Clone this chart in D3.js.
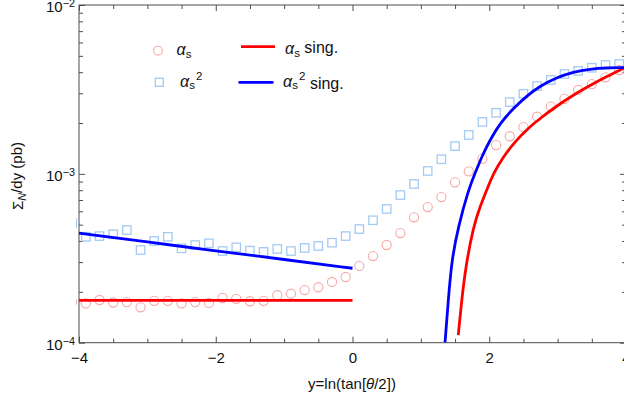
<!DOCTYPE html>
<html><head><meta charset="utf-8">
<script src="https://cdn.jsdelivr.net/npm/d3@7"></script>
<style>body{margin:0;background:#fff} text{font-family:"Liberation Sans",Arial,sans-serif}</style>
</head><body>
<svg id="c" width="624" height="407"></svg>
<script>
// ---- data ----
const xPoints = [-4.1,-3.9,-3.7,-3.5,-3.3,-3.1,-2.9,-2.7,-2.5,-2.3,-2.1,-1.9,-1.7,-1.5,-1.3,-1.1,-0.9,-0.7,-0.5,-0.3,-0.1,
  0.1,0.3,0.5,0.7,0.9,1.1,1.3,1.5,1.7,1.9,2.1,2.3,2.5,2.7,2.9,3.1,3.3,3.5,3.7,3.9];
const alphaS = [1.74e-4,1.71e-4,1.79e-4,1.73e-4,1.74e-4,1.62e-4,1.77e-4,1.77e-4,1.71e-4,1.74e-4,1.72e-4,1.84e-4,1.82e-4,1.76e-4,1.77e-4,1.91e-4,1.95e-4,2.05e-4,2.13e-4,2.29e-4,2.45e-4,
  2.85e-4,3.26e-4,3.79e-4,4.46e-4,5.53e-4,6.36e-4,7.29e-4,8.91e-4,1.035e-3,1.23e-3,1.48e-3,1.67e-3,1.89e-3,2.18e-3,2.50e-3,2.78e-3,3.14e-3,3.40e-3,3.73e-3,4.12e-3];
const alphaS2 = [5.12e-4,4.24e-4,4.28e-4,4.39e-4,4.65e-4,3.54e-4,4.00e-4,4.24e-4,3.62e-4,3.79e-4,3.88e-4,3.49e-4,3.67e-4,3.51e-4,3.45e-4,3.59e-4,3.49e-4,3.64e-4,3.74e-4,3.91e-4,4.28e-4,
  4.71e-4,5.31e-4,6.19e-4,7.49e-4,8.71e-4,1.04e-3,1.22e-3,1.46e-3,1.70e-3,2.03e-3,2.30e-3,2.66e-3,2.98e-3,3.31e-3,3.60e-3,3.90e-3,4.07e-3,4.25e-3,4.41e-3,4.47e-3];

const singLeftX = [-4,-3,-2,-1,0];
const alphaSSingLeft = [1.78e-4,1.78e-4,1.78e-4,1.78e-4,1.78e-4];
const alphaS2SingLeft = [4.45e-4,3.95e-4,3.50e-4,3.11e-4,2.76e-4];

const alphaSSingRightX = [1.547,1.597,1.656,1.767,1.865,1.963,2.060,2.206,2.377,2.571,2.742,2.986,3.230,3.474,3.718,3.971,4.0];
const alphaSSingRight  = [1.11e-4,1.79e-4,2.82e-4,4.86e-4,6.39e-4,8.02e-4,1.007e-3,1.263e-3,1.554e-3,1.868e-3,2.127e-3,2.522e-3,2.931e-3,3.335e-3,3.772e-3,4.235e-3,4.30e-3];
const alphaS2SingRightX = [1.353,1.401,1.451,1.547,1.694,1.792,1.890,2.011,2.157,2.352,2.548,2.742,2.986,3.230,3.474,3.718,3.971,4.0];
const alphaS2SingRight  = [1.0e-4,1.79e-4,3.09e-4,4.86e-4,8.02e-4,1.007e-3,1.263e-3,1.586e-3,1.993e-3,2.44e-3,2.891e-3,3.313e-3,3.72e-3,4.01e-3,4.18e-3,4.25e-3,4.26e-3,4.26e-3];

const xMajorTicks = [-4,-2,0,2,4];
const xTickLabels = ["\u22124","\u22122","0","2","4"];
const xMinorTicks = [-3.5,-3,-2.5,-1.5,-1,-0.5,0.5,1,1.5,2.5,3,3.5];
const yMajorTicks = [1e-4,1e-3,1e-2];
const yTickExponents = ["\u22124","\u22123","\u22122"];
const yMinorTicks = [2e-4,3e-4,4e-4,5e-4,6e-4,7e-4,8e-4,9e-4,2e-3,3e-3,4e-3,5e-3,6e-3,7e-3,8e-3,9e-3];

// ---- layout ----
const L = 79, R = 626, T = 5, B = 342.7;
const svg = d3.select("#c");
const x = d3.scaleLinear().domain([-4,4]).range([L,R]);
const y = d3.scaleLog().domain([1e-4,1e-2]).range([B,T]);
const axisColor = "#4d4d4d";
const FONT = '"Liberation Sans",Arial,sans-serif';

svg.append("defs").append("clipPath").attr("id","clip")
  .append("rect").attr("x",76).attr("y",T).attr("width",R-76).attr("height",B-T);

svg.append("rect").attr("x",L).attr("y",T).attr("width",R-L).attr("height",B-T)
  .attr("fill","none").attr("stroke",axisColor).attr("stroke-width",1);

function styleAxis(g){ g.select(".domain").remove(); g.selectAll("line").attr("stroke",axisColor); }

// bottom axis
const gb = svg.append("g").attr("transform",`translate(0,${B})`)
  .call(d3.axisBottom(x).tickValues(xMajorTicks).tickSize(-6).tickPadding(10)
    .tickFormat((d,i)=>xTickLabels[i]));
styleAxis(gb);
gb.selectAll("text").attr("font-size",15).attr("fill","#111").attr("font-family",FONT);
styleAxis(svg.append("g").attr("transform",`translate(0,${B})`)
  .call(d3.axisBottom(x).tickValues(xMinorTicks).tickSize(-4).tickFormat("")));
// top axis
styleAxis(svg.append("g").attr("transform",`translate(0,${T})`)
  .call(d3.axisTop(x).tickValues(xMajorTicks).tickSize(-6).tickFormat("")));
styleAxis(svg.append("g").attr("transform",`translate(0,${T})`)
  .call(d3.axisTop(x).tickValues(xMinorTicks).tickSize(-4).tickFormat("")));

// left axis
const gl = svg.append("g").attr("transform",`translate(${L},0)`)
  .call(d3.axisLeft(y).tickValues(yMajorTicks).tickSize(-6).tickPadding(4).tickFormat(""));
styleAxis(gl);
gl.selectAll(".tick text").each(function(d,i){
  const t = d3.select(this);
  t.attr("font-size",15).attr("fill","#111").attr("dy","0.45em").attr("font-family",FONT);
  t.append("tspan").text("10");
  t.append("tspan").attr("dy","-0.5em").attr("font-size","0.72em").text(yTickExponents[i]);
});
styleAxis(svg.append("g").attr("transform",`translate(${L},0)`)
  .call(d3.axisLeft(y).tickValues(yMinorTicks).tickSize(-4).tickFormat("")));
// right axis
styleAxis(svg.append("g").attr("transform",`translate(${R},0)`)
  .call(d3.axisRight(y).tickValues(yMajorTicks).tickSize(-6).tickFormat("")));
styleAxis(svg.append("g").attr("transform",`translate(${R},0)`)
  .call(d3.axisRight(y).tickValues(yMinorTicks).tickSize(-4).tickFormat("")));

// ---- marks ----
const plot = svg.append("g").attr("clip-path","url(#clip)");
const circColor = "#f7a8a8", sqColor = "#a3caf3";

plot.append("g").selectAll("circle").data(xPoints).join("circle")
  .attr("cx",d=>x(d)).attr("cy",(d,i)=>y(alphaS[i])).attr("r",4.6)
  .attr("fill","none").attr("stroke",circColor).attr("stroke-width",1.1);
plot.append("g").selectAll("rect").data(xPoints).join("rect")
  .attr("x",d=>x(d)-4.2).attr("y",(d,i)=>y(alphaS2[i])-4.2).attr("width",8.4).attr("height",8.4)
  .attr("fill","none").attr("stroke",sqColor).attr("stroke-width",1.3);

const line = d3.line().x(d=>x(d[0])).y(d=>y(d[1])).curve(d3.curveBasis);
function drawLine(xs, vs, color){
  plot.append("path").attr("d", line(xs.map((v,i)=>[v,vs[i]])))
    .attr("fill","none").attr("stroke",color).attr("stroke-width",2.8);
}
drawLine(singLeftX, alphaSSingLeft, "#ff0000");
drawLine(singLeftX, alphaS2SingLeft, "#0000ff");
drawLine(alphaSSingRightX, alphaSSingRight, "#ff0000");
drawLine(alphaS2SingRightX, alphaS2SingRight, "#0000ff");

// ---- axis titles ----
const xt = svg.append("text").attr("x",352).attr("y",389).attr("text-anchor","middle")
  .attr("font-size",15).attr("fill","#111");
xt.append("tspan").text("y=ln(tan[");
xt.append("tspan").attr("font-style","italic").text("\u03b8");
xt.append("tspan").text("/2])");

const yt = svg.append("text").attr("transform","translate(23,176) rotate(-90)").attr("text-anchor","middle")
  .attr("font-size",15).attr("fill","#111");
yt.append("tspan").text("\u03a3");
yt.append("tspan").attr("font-style","italic").attr("font-size","0.72em").attr("dy","0.3em").text("N");
yt.append("tspan").attr("dy","-0.3em").text("/dy (pb)");

// ---- legend ----
const lg = svg.append("g");
lg.append("circle").attr("cx",158).attr("cy",50.7).attr("r",4.4)
  .attr("fill","none").attr("stroke",circColor).attr("stroke-width",1.1);
lg.append("rect").attr("x",159.3-4).attr("y",82.3-4).attr("width",8).attr("height",8)
  .attr("fill","none").attr("stroke",sqColor).attr("stroke-width",1.3);
lg.append("line").attr("x1",241).attr("x2",275).attr("y1",46.7).attr("y2",46.7)
  .attr("stroke","#ff0000").attr("stroke-width",2.8);
lg.append("line").attr("x1",238.5).attr("x2",273.5).attr("y1",82.3).attr("y2",82.3)
  .attr("stroke","#0000ff").attr("stroke-width",2.8);

function alphaLabel(xp, yp, sup, rest){
  const t = lg.append("text").attr("x",xp).attr("y",yp).attr("font-size",16).attr("fill","#111");
  t.append("tspan").attr("font-style","italic").text("\u03b1");
  t.append("tspan").attr("font-size","0.72em").attr("dy","0.25em").text("s");
  if (sup) t.append("tspan").attr("font-size","0.72em").attr("dy","-0.85em").attr("dx","0.1em").text(sup);
  if (rest) t.append("tspan").attr("dy", sup ? "0.6em" : "-0.25em").text(rest);
}
alphaLabel(176.5, 55, null, null);
alphaLabel(180, 86.5, "2", null);
alphaLabel(285, 54, null, " sing.");
alphaLabel(283, 86.5, "2", " sing.");
</script>
</body></html>
